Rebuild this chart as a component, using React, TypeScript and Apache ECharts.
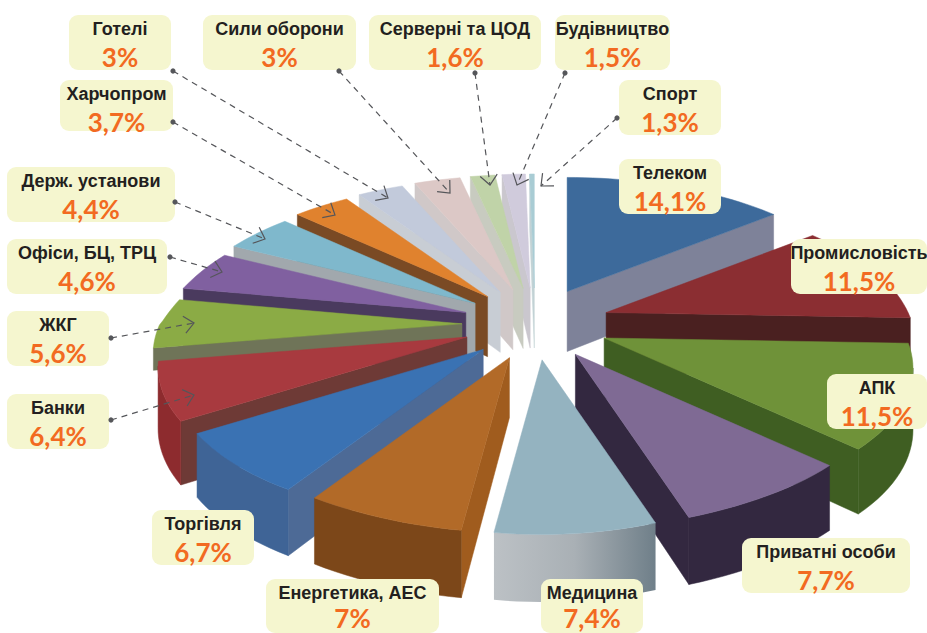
import React, { useEffect, useRef } from "react";
import * as echarts from "echarts";

// ---- data ----
const categories = [
  "Телеком", "Промисловість", "АПК", "Приватні особи", "Медицина", "Енергетика, АЕС",
  "Торгівля", "Банки", "ЖКГ", "Офіси, БЦ, ТРЦ", "Держ. установи", "Харчопром",
  "Готелі", "Сили оборони", "Серверні та ЦОД", "Будівництво", "Спорт",
];
// slice sizes as drawn in the picture (the thin last slice is drawn about 0.3 wide)
const values = [14.1, 11.5, 11.5, 7.7, 7.4, 7, 6.7, 6.4, 5.6, 4.6, 4.4, 3.7, 3, 3, 1.6, 1.5, 0.3];
const valueLabels = [
  "14,1%", "11,5%", "11,5%", "7,7%", "7,4%", "7%", "6,7%", "6,4%", "5,6%", "4,6%", "4,4%", "3,7%",
  "3%", "3%", "1,6%", "1,5%", "1,3%",
];

// ---- styles: top, cut face, outer wall, extrusion depth ----
const topColors = [
  "#3d6a9b", "#8b2e32", "#6f9239", "#7f6a94", "#94b3c0", "#b26a28", "#3a72b3", "#a83a3f", "#8bab45",
  "#8060a0", "#7fb8cc", "#e0822e", "#c2cadb", "#dcc8c6", "#c0d3a8", "#d0cbdc", "#a9ccd4",
];
const cutColors = [
  "#7e8299", "#4a2020", "#3f5e22", "#332840", "#a9b0b5", "#a05c1e", "#4d6a96", "#6e3a36", "#6f7458",
  "#4a3a5e", "#a1a8ad", "#7a4a24", "#c8cdd4", "#d0c8c8", "#c8cbc0", "#cac7ce", "#c2d2d5",
];
const wallColors = [
  "#7e8299", "#4a2020", "#3f5e22", "#332840", "#a9b0b5", "#7c4719", "#3f6496", "#8d2b2e", "#7f9a45",
  "#4a3a5e", "#a1a8ad", "#7a4a24", "#c8cdd4", "#d0c8c8", "#c8cbc0", "#cac7ce", "#c2d2d5",
];
const sliceDepths = [60, 60, 60, 60, 60, 60, 60, 60, 22, 60, 60, 60, 60, 60, 60, 60, 60];

// ---- layout: label boxes [x, y, w, h], leader lines [fromX, fromY, toX, toY] ----
const boxes: number[][] = [
  [619, 159, 102, 55], [791, 239, 136, 55], [827, 374, 100, 55], [742, 538, 168, 55],
  [541, 579, 102, 54], [266, 579, 173, 54], [152, 510, 102, 55], [7, 394, 102, 55],
  [7, 311, 102, 55], [7, 239, 160, 55], [7, 167, 168, 55], [60, 80, 113, 51],
  [69, 15, 102, 55], [203, 15, 153, 55], [369, 15, 172, 55], [555, 15, 115, 55], [619, 80, 102, 55],
];
const leaders: (number[] | null)[] = [
  null, null, null, null, null, null, null,
  [111, 420, 194, 395], [111, 338, 194, 323], [170, 257, 222, 272], [175, 202, 265, 239],
  [173, 122, 335, 215], [173, 71, 388, 198], [339, 71, 450, 193], [475, 73, 490, 185],
  [565, 73, 517, 185], [617, 118, 541, 186],
];

const CX = 535, CY = 324, EX_RIGHT = 75, EX_LEFT = 73, EY = 36; // explosion ellipse
const RX = 302, RY = 138, PERSP = 0.21;
const rad = (d: number) => (d * Math.PI) / 180;
const total = values.reduce((a, b) => a + b, 0);
const startAngles: number[] = [];
values.reduce((acc, v, i) => {
  startAngles[i] = (acc / total) * 360;
  return acc + v;
}, 0);
const midAngle = (i: number) => startAngles[i] + (values[i] / total) * 180;
const drawOrder = values.map((_, i) => i).sort((a, b) => Math.cos(rad(midAngle(b))) - Math.cos(rad(midAngle(a))));

const persp = (deg: number) => 1 / (1 + PERSP * Math.cos(rad(deg)));
const xFactor = (deg: number) => {
  const s = Math.sin(rad(deg));
  const c = Math.cos(rad(deg));
  const p = persp(deg);
  const base = c < 0 ? Math.pow(p, 1 - 0.4 * Math.pow(c, 6)) : p;
  const backLeft = s < 0 && c > 0 ? 1 - 0.03 * -s * Math.sqrt(c) : 1;
  return base * backLeft;
};

function sliceShapes(i: number) {
  const m = midAngle(i);
  const sm = Math.sin(rad(m));
  const ax = CX + (sm < 0 ? EX_LEFT : EX_RIGHT) * sm;
  const ay = CY - EY * Math.cos(rad(m));
  const sweep = (values[i] / total) * 360;
  const steps = Math.max(2, Math.ceil(sweep / 2));
  const depth = sliceDepths[i];
  const arc: number[][] = [];
  for (let s = 0; s <= steps; s++) {
    const d = startAngles[i] + (sweep * s) / steps;
    const p = persp(d);
    arc.push([ax + RX * Math.sin(rad(d)) * xFactor(d), ay - RY * Math.cos(rad(d)) * p, depth * Math.sqrt(p)]);
  }
  const apex = [ax, ay, depth];
  const poly = (pts: number[][], fill: any) => ({
    type: "polygon",
    shape: { points: pts },
    style: { fill, stroke: typeof fill === "string" ? fill : undefined, lineWidth: 0.5 },
  });
  const children: any[] = [];
  const extrude = (pts: number[][]) => [
    ...pts.map((q) => [q[0], q[1]]),
    ...pts.slice().reverse().map((q) => [q[0], q[1] + q[2]]),
  ];
  const first = arc[0];
  const last = arc[arc.length - 1];
  if (first[0] < apex[0]) children.push(poly(extrude([apex, first]), cutColors[i]));
  if (apex[0] < last[0]) children.push(poly(extrude([last, apex]), cutColors[i]));
  const front: number[][] = [];
  for (let s = 0; s < arc.length; s++) {
    const leftward =
      (s + 1 < arc.length && arc[s + 1][0] < arc[s][0]) || (s > 0 && arc[s][0] < arc[s - 1][0]);
    if (leftward) front.push(arc[s]);
  }
  if (front.length > 1) {
    const fill =
      categories[i] === "Медицина"
        ? new echarts.graphic.LinearGradient(0, 0, 1, 0, [
            { offset: 0, color: "#bcc1c5" },
            { offset: 0.5, color: "#a9b0b5" },
            { offset: 1, color: "#6f7f89" },
          ])
        : wallColors[i];
    children.push(poly(extrude(front), fill));
  }
  children.push(poly([[apex[0], apex[1]], ...arc.map((q) => [q[0], q[1]])], topColors[i]));
  return children;
}

function buildGraphics() {
  const els: any[] = [];
  categories.forEach((name, i) => {
    const [x, y, w, h] = boxes[i];
    els.push({ type: "rect", z: 10, shape: { x, y, width: w, height: h, r: 9 }, style: { fill: "#f5f6cf" } });
    els.push({
      type: "text", z: 11, x: x + w / 2, y: y + 13.5,
      style: { text: name, fill: "#231f20", font: 'bold 18px "Liberation Sans", Arial, sans-serif', align: "center", verticalAlign: "middle" },
    });
    els.push({
      type: "text", z: 11, x: x + w / 2, y: Math.min(y + 42, 618),
      style: { text: valueLabels[i], fill: "#f26a21", font: 'bold 26px Lato, sans-serif', align: "center", verticalAlign: "middle" },
    });
    const l = leaders[i];
    if (l) {
      const [x1, y1, x2, y2] = l;
      const ang = Math.atan2(y2 - y1, x2 - x1);
      const arm = (o: number) => [x2 - 13 * Math.cos(ang + o), y2 - 13 * Math.sin(ang + o)];
      const lineStyle = { stroke: "#55565a", lineWidth: 1.2, fill: "none" };
      els.push({ type: "line", z: 12, shape: { x1, y1, x2, y2 }, style: { ...lineStyle, lineDash: [6, 5] } });
      els.push({ type: "polyline", z: 12, shape: { points: [arm(0.72), [x2, y2], arm(-0.72)] }, style: lineStyle });
      els.push({ type: "circle", z: 12, shape: { cx: x1, cy: y1, r: 2.6 }, style: { fill: "#55565a" } });
    }
  });
  return els;
}

export default function App() {
  const ref = useRef<HTMLDivElement>(null);
  useEffect(() => {
    document.body.style.margin = "0";
    const chart = echarts.init(ref.current!, undefined, { renderer: "svg" });
    chart.setOption({
      animation: false,
      backgroundColor: "#ffffff",
      series: [
        {
          type: "custom",
          coordinateSystem: "none",
          silent: true,
          data: drawOrder.map((i) => ({ name: categories[i], value: [values[i], i] })),
          renderItem: (_p: any, api: any) => ({
            type: "group",
            children: sliceShapes(api.value(1)),
          }),
        },
      ],
      graphic: { elements: buildGraphics() },
    });
    return () => chart.dispose();
  }, []);
  return <div ref={ref} style={{ width: 927, height: 633 }} />;
}
